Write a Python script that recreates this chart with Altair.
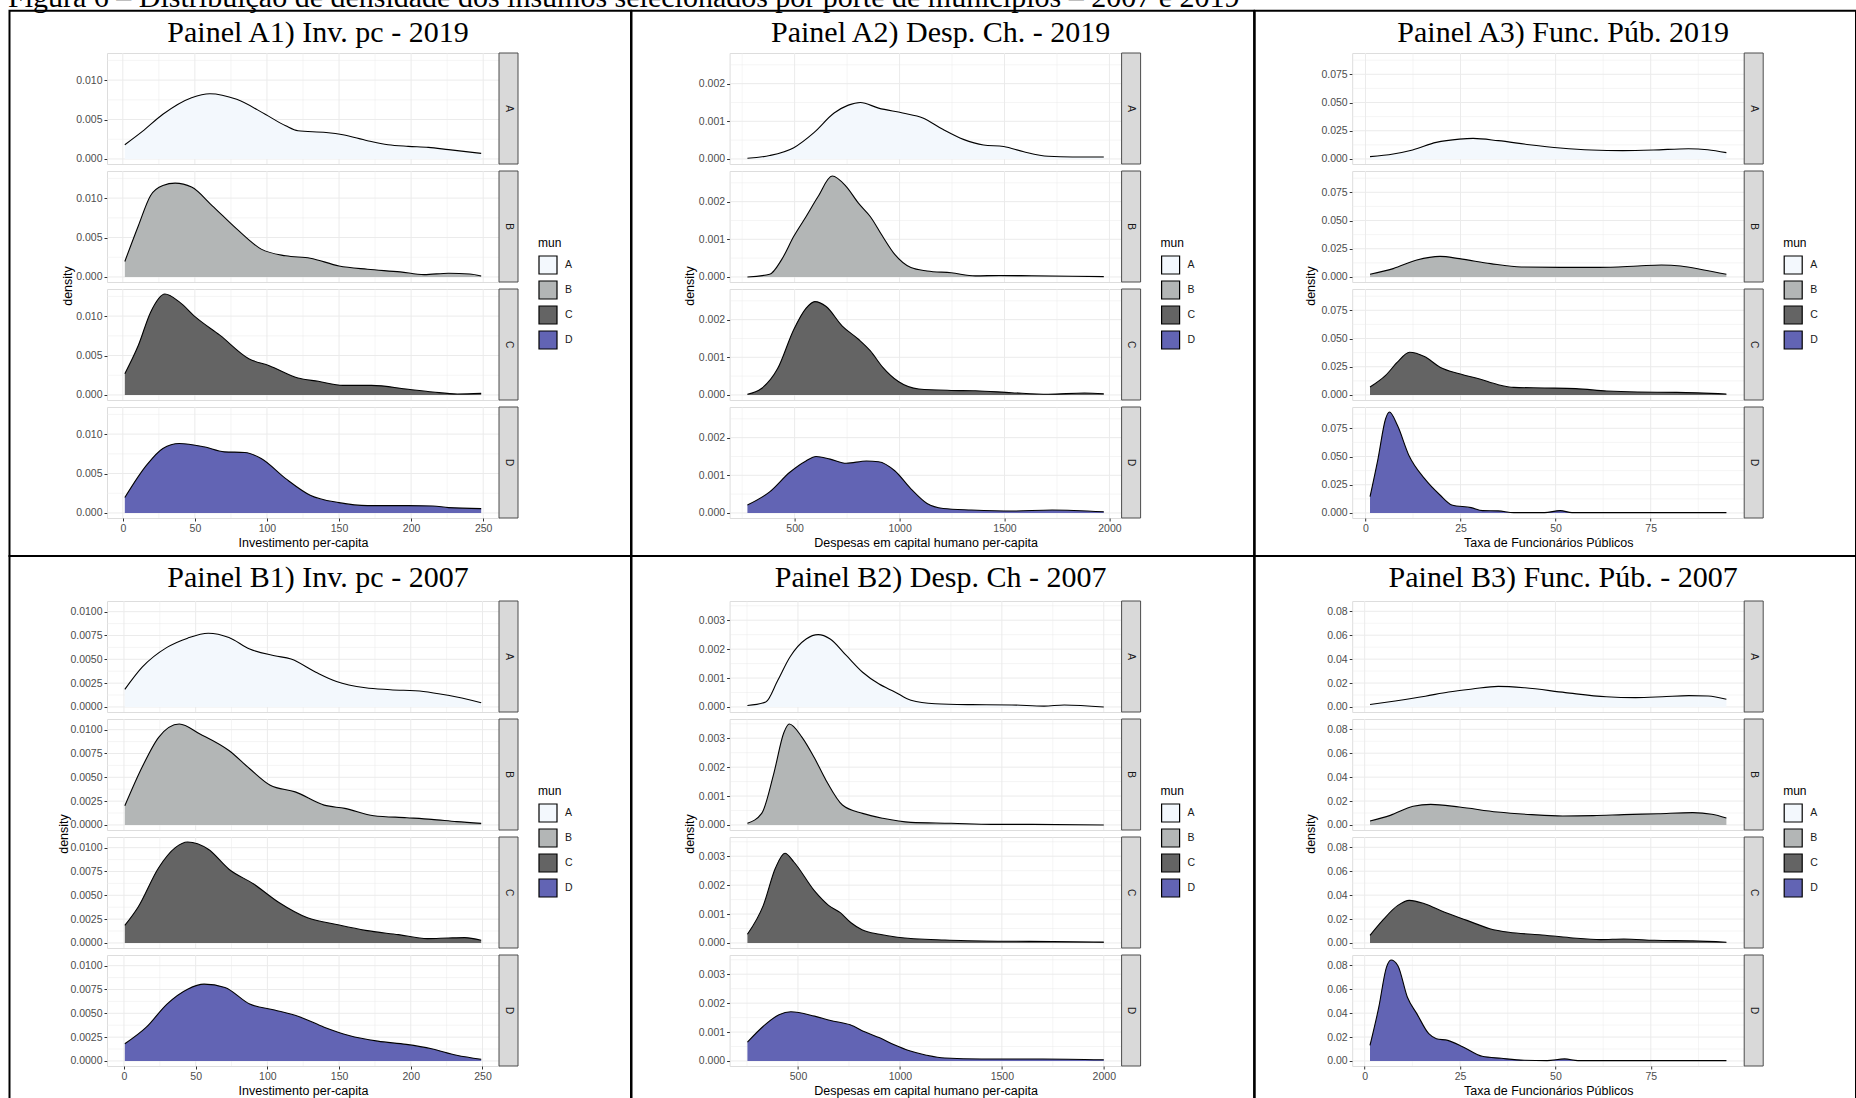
import altair as alt
import pandas as pd

# ---------------- data ----------------
# Panel A1) Inv. pc - 2019
a1_A_x = [1.4, 13.6, 27.8, 47.7, 60.4, 79, 98.8, 113, 121.5, 141, 152.7, 169.7, 184, 198, 212, 226, 248.6]
a1_A_y = [0.0018, 0.00349, 0.00567, 0.00777, 0.00828, 0.00756, 0.00567, 0.0042, 0.00357, 0.00336, 0.00307, 0.00231, 0.0018, 0.0016, 0.00147, 0.00118, 0.00071]
a1_B_x = [1.4, 10.8, 19.3, 27.8, 36.3, 47.7, 61.9, 79, 96, 113, 130, 150, 169.7, 192.4, 209, 226, 240.6, 248.6]
a1_B_y = [0.00196, 0.0065, 0.01034, 0.0116, 0.0119, 0.0114, 0.00906, 0.00609, 0.00353, 0.00268, 0.00238, 0.0014, 0.00098, 0.00064, 0.0003, 0.00047, 0.00038, 0.00013]
a1_C_x = [1.4, 10.8, 19.3, 29.2, 39.2, 50.5, 67.5, 87.4, 101.6, 121.5, 135.6, 152.7, 172.5, 198, 215, 232, 248.6]
a1_C_y = [0.0027, 0.0063, 0.0105, 0.0128, 0.0118, 0.00987, 0.00755, 0.0046, 0.0037, 0.00215, 0.00173, 0.00122, 0.00122, 0.00072, 0.00038, 0.00013, 0.0002]
a1_D_x = [1.4, 16.5, 27.8, 39.2, 56.2, 70.4, 84.6, 96, 113, 130, 150, 169.7, 198, 215, 226, 248.6]
a1_D_y = [0.00195, 0.00606, 0.00818, 0.00881, 0.00839, 0.00775, 0.00767, 0.00691, 0.00436, 0.00225, 0.00131, 0.00093, 0.00093, 0.00089, 0.00068, 0.00055]

# Panel A2) Desp. Ch. - 2019
a2_A_x = [275, 381, 496, 592, 688, 756, 813, 900, 1015, 1111, 1208, 1304, 1400, 1496, 1592, 1708, 1823, 1973]
a2_A_y = [0.00002, 0.00009, 0.0003, 0.0007, 0.00122, 0.00143, 0.0015, 0.00135, 0.00122, 0.00109, 0.00078, 0.00052, 0.00037, 0.00033, 0.00019, 0.00007, 0.00005, 0.00005]
a2_B_x = [275, 381, 438, 496, 554, 611, 679, 746, 804, 861, 919, 977, 1054, 1131, 1246, 1361, 1477, 1631, 1973]
a2_B_y = [0.0, 0.00007, 0.00046, 0.00108, 0.0016, 0.00213, 0.00268, 0.0024, 0.00196, 0.0016, 0.00108, 0.0006, 0.00025, 0.00016, 0.00011, 0.00003, 0.00004, 0.00003, 0.00001]
a2_C_x = [275, 342, 419, 496, 554, 596, 650, 727, 804, 861, 919, 996, 1092, 1246, 1361, 1534, 1708, 1881, 1973]
a2_C_y = [0.00002, 0.00017, 0.0007, 0.00174, 0.0023, 0.00248, 0.00235, 0.00183, 0.00148, 0.00117, 0.00074, 0.00035, 0.00016, 0.00012, 0.00011, 0.00006, 0.00002, 0.00005, 0.00003]
a2_D_x = [275, 381, 477, 554, 602, 669, 746, 842, 900, 977, 1054, 1131, 1208, 1342, 1534, 1727, 1973]
a2_D_y = [0.00021, 0.00056, 0.00108, 0.00138, 0.0015, 0.00143, 0.00132, 0.00138, 0.00136, 0.00112, 0.00064, 0.00025, 0.00012, 0.00008, 0.00005, 0.00008, 0.00003]

# Panel A3) Func. Púb. 2019
a3_A_x = [1.2, 7.3, 12.4, 18.6, 24.7, 28.3, 34.9, 43.1, 51.2, 59.4, 67.6, 75.7, 84.9, 90, 94.9]
a3_A_y = [0.0021, 0.0044, 0.0079, 0.0147, 0.0176, 0.0182, 0.0162, 0.0126, 0.0097, 0.0079, 0.0074, 0.0079, 0.0091, 0.0082, 0.0056]
a3_B_x = [1.2, 7.3, 13.5, 19.6, 24.7, 32.9, 41, 51.2, 61.4, 71.6, 77.8, 82.9, 89, 94.9]
a3_B_y = [0.0024, 0.0074, 0.015, 0.0182, 0.0162, 0.0118, 0.0088, 0.0085, 0.0085, 0.0097, 0.0106, 0.0097, 0.0062, 0.0024]
a3_C_x = [1.2, 5.3, 8.4, 11.6, 15.5, 19.6, 24.7, 29.8, 34.9, 39, 47.1, 55.3, 63.5, 71.6, 81.8, 94.9]
a3_C_y = [0.007, 0.0173, 0.029, 0.0378, 0.034, 0.0246, 0.0188, 0.0144, 0.0091, 0.0067, 0.0062, 0.0056, 0.0035, 0.0026, 0.0023, 0.0009]
a3_D_x = [1.2, 3.3, 5.3, 6.3, 8.4, 11.4, 15.5, 19.6, 22.7, 27.8, 30.8, 34.9, 39, 47.1, 51.2, 54.3, 94.9]
a3_D_y = [0.0144, 0.048, 0.0835, 0.0894, 0.0776, 0.0512, 0.0306, 0.0159, 0.0071, 0.0047, 0.0021, 0.0018, 0.0003, 0.0003, 0.0021, 0.0003, 0.0003]

# Panel B1) Inv. pc - 2007
b1_A_x = [0.6, 12.7, 30, 44.4, 58.8, 73.2, 87.7, 105, 116.5, 133.8, 148.2, 168.4, 185.7, 208.8, 226, 249.1]
b1_A_y = [0.00184, 0.00417, 0.00625, 0.00722, 0.00774, 0.00729, 0.00608, 0.00538, 0.00503, 0.00365, 0.00267, 0.00201, 0.00181, 0.00163, 0.00122, 0.00045]
b1_B_x = [0.6, 12.7, 24.2, 38.6, 53, 73.2, 87.7, 102, 119.4, 139.6, 154, 174.2, 197.2, 214.5, 232, 249.1]
b1_B_y = [0.00201, 0.00608, 0.0092, 0.01059, 0.00955, 0.00781, 0.0059, 0.00417, 0.00347, 0.00208, 0.00174, 0.00097, 0.00076, 0.00059, 0.00035, 0.00017]
b1_C_x = [0.6, 9.8, 24.2, 35.8, 44.4, 58.8, 73.2, 90.5, 107.8, 128, 148.2, 168.4, 191.5, 211.7, 226, 237.6, 249.1]
b1_C_y = [0.00184, 0.00375, 0.0079, 0.01, 0.01059, 0.00983, 0.00774, 0.00618, 0.00427, 0.00264, 0.00194, 0.00132, 0.00087, 0.00045, 0.00052, 0.00056, 0.00028]
b1_D_x = [0.6, 15.6, 30, 44.4, 55.9, 70.4, 87.7, 105, 122.3, 139.6, 156.9, 177, 196.9, 214.5, 232, 249.1]
b1_D_y = [0.0018, 0.00354, 0.00597, 0.00753, 0.00806, 0.00771, 0.00597, 0.00535, 0.00465, 0.00354, 0.00267, 0.00208, 0.00174, 0.00128, 0.00059, 0.00017]

# Panel B2) Desp. Ch - 2007
b2_A_x = [252, 342, 401, 460, 540, 599, 658, 737, 817, 896, 975, 1054, 1173, 1351, 1549, 1707, 1806, 2000]
b2_A_y = [0.00005, 0.00017, 0.00092, 0.00172, 0.00235, 0.0025, 0.00235, 0.00178, 0.0012, 0.0008, 0.00052, 0.00023, 0.00011, 0.00008, 0.00007, 0.00003, 0.00007, 0.0]
b2_B_x = [252, 322, 381, 431, 457, 520, 579, 638, 718, 817, 916, 1054, 1252, 1450, 1648, 2000]
b2_B_y = [0.00006, 0.0004, 0.00177, 0.0032, 0.00349, 0.00303, 0.00234, 0.00154, 0.00069, 0.0004, 0.00023, 0.00009, 0.00006, 0.00002, 0.00002, 0.0]
b2_C_x = [252, 330, 390, 436, 480, 581, 650, 709, 760, 814, 900, 988, 1221, 1500, 1750, 2000]
b2_C_y = [0.0003, 0.0013, 0.0026, 0.0031, 0.0028, 0.0018, 0.0013, 0.00104, 0.0007, 0.00046, 0.0003, 0.0002, 0.0001, 0.00006, 0.00005, 0.00003]
b2_D_x = [252, 330, 407, 465, 581, 660, 756, 830, 901, 975, 1047, 1130, 1221, 1400, 1700, 2000]
b2_D_y = [0.00065, 0.0012, 0.0016, 0.0017, 0.00155, 0.0014, 0.00125, 0.001, 0.0008, 0.00055, 0.00035, 0.0002, 0.0001, 0.00007, 0.00007, 0.00004]

# Panel B3) Func. Púb. - 2007
b3_A_x = [1.4, 8, 15.9, 22, 28.2, 35, 42, 52.6, 63.3, 71, 78, 85, 90, 94.8]
b3_A_y = [0.002, 0.005, 0.009, 0.0125, 0.015, 0.0172, 0.016, 0.012, 0.0085, 0.0078, 0.0085, 0.0095, 0.0092, 0.0065]
b3_B_x = [1.4, 6.7, 12.7, 17.3, 24.8, 34.8, 43.8, 51.9, 59.9, 67.9, 76.9, 86, 91, 94.8]
b3_B_y = [0.0033, 0.008, 0.0156, 0.0172, 0.015, 0.0108, 0.0086, 0.0075, 0.0078, 0.0086, 0.0094, 0.0103, 0.0089, 0.0058]
b3_C_x = [1.4, 4.7, 8.7, 11.7, 15.7, 20.8, 26.8, 32.8, 37.8, 45.8, 53.9, 61.9, 67.9, 75.9, 86, 94.8]
b3_C_y = [0.0064, 0.0189, 0.0314, 0.0356, 0.0328, 0.0258, 0.0189, 0.0119, 0.0089, 0.0069, 0.0044, 0.0028, 0.0033, 0.0022, 0.0017, 0.0006]
b3_D_x = [1.4, 3.7, 5.7, 6.9, 8.7, 11.2, 13.7, 16.8, 18.8, 21.8, 25.8, 30.8, 35.8, 41.8, 47.8, 52.4, 55.9, 94.8]
b3_D_y = [0.0131, 0.045, 0.0783, 0.0844, 0.0797, 0.0533, 0.0394, 0.0228, 0.0186, 0.0172, 0.0117, 0.0039, 0.0022, 0.0006, 0.0003, 0.0017, 0.0003, 0.0003]

# groups, colours, titles, tick values
groups = ["A", "B", "C", "D"]
fill_colors = ["#F3F8FD", "#B3B6B6", "#646464", "#6264B4"]
caption = "Figura 6 \u2013 Distribui\u00e7\u00e3o de densidade dos insumos selecionados por porte de munic\u00edpios \u2013 2007 e 2019"
panel_titles = [["Painel A1) Inv. pc - 2019", "Painel A2) Desp. Ch. - 2019", "Painel A3) Func. P\u00fab. 2019"],
                ["Painel B1) Inv. pc - 2007", "Painel B2) Desp. Ch - 2007", "Painel B3) Func. P\u00fab. - 2007"]]
x_titles = ["Investimento per-capita", "Despesas em capital humano per-capita", "Taxa de Funcion\u00e1rios P\u00fablicos"]

x_major_inv = [0, 50, 100, 150, 200, 250]
x_minor_inv = [25, 75, 125, 175, 225]
x_major_desp = [500, 1000, 1500, 2000]
x_minor_desp = [250, 750, 1250, 1750]
x_major_func = [0, 25, 50, 75]
x_minor_func = [12.5, 37.5, 62.5, 87.5]

y_major = {
    "a1": [0, 0.005, 0.010], "a2": [0, 0.001, 0.002], "a3": [0, 0.025, 0.05, 0.075],
    "b1": [0, 0.0025, 0.005, 0.0075, 0.01], "b2": [0, 0.001, 0.002, 0.003], "b3": [0, 0.02, 0.04, 0.06, 0.08],
}
y_minor = {
    "a1": [0.0025, 0.0075, 0.0125], "a2": [0.0005, 0.0015, 0.0025], "a3": [0.0125, 0.0375, 0.0625, 0.0875],
    "b1": [0.00125, 0.00375, 0.00625, 0.00875, 0.01125], "b2": [0.0005, 0.0015, 0.0025, 0.0035],
    "b3": [0.01, 0.03, 0.05, 0.07],
}
y_formats = {"a1": ".3f", "a2": ".3f", "a3": ".3f", "b1": ".4f", "b2": ".3f", "b3": ".2f"}

data_tbl = {
    "a1": ({"A": a1_A_x, "B": a1_B_x, "C": a1_C_x, "D": a1_D_x}, {"A": a1_A_y, "B": a1_B_y, "C": a1_C_y, "D": a1_D_y}),
    "a2": ({"A": a2_A_x, "B": a2_B_x, "C": a2_C_x, "D": a2_D_x}, {"A": a2_A_y, "B": a2_B_y, "C": a2_C_y, "D": a2_D_y}),
    "a3": ({"A": a3_A_x, "B": a3_B_x, "C": a3_C_x, "D": a3_D_x}, {"A": a3_A_y, "B": a3_B_y, "C": a3_C_y, "D": a3_D_y}),
    "b1": ({"A": b1_A_x, "B": b1_B_x, "C": b1_C_x, "D": b1_D_x}, {"A": b1_A_y, "B": b1_B_y, "C": b1_C_y, "D": b1_D_y}),
    "b2": ({"A": b2_A_x, "B": b2_B_x, "C": b2_C_x, "D": b2_D_x}, {"A": b2_A_y, "B": b2_B_y, "C": b2_C_y, "D": b2_D_y}),
    "b3": ({"A": b3_A_x, "B": b3_B_x, "C": b3_C_x, "D": b3_D_x}, {"A": b3_A_y, "B": b3_B_y, "C": b3_C_y, "D": b3_D_y}),
}

# ---------------- layout constants ----------------
H = 111
VSP = 7
STRIP_W = 19
W = 392
HSP = 230.6
GAP_ROW_H = 69
SANS = "Liberation Sans"
SERIF = "Liberation Serif"
BOX_X = [(-97.5, 524), (-98.1, 524.5), (-97.5, 503.8)]
BOX_Y = [(-42.3, 503), (-45, 499)]
TITLE_Y = [-11.3, -14.3]
DENS_X = [[-40, -40, -42], [-44, -40, -42]]
TICK_FS = 10.5
TITLE_FS = 12.5

fill_scale = alt.Scale(domain=groups, range=fill_colors)


def sub_chart(key, row, col, g, k):
    xs_d, ys_d = data_tbl[key]
    allx = [v for gg in groups for v in xs_d[gg]]
    ally = [v for gg in groups for v in ys_d[gg]]
    xmin, xmax = min(allx), max(allx)
    rng = xmax - xmin
    xdom = [xmin - 0.05 * rng, xmax + 0.05 * rng]
    ymax = max(ally)
    ydom = [-0.05 * ymax, 1.05 * ymax]
    xsc = alt.Scale(domain=xdom, nice=False, zero=False)
    ysc = alt.Scale(domain=ydom, nice=False, zero=False)

    xmaj = [x_major_inv, x_major_desp, x_major_func][col]
    xmin_l = [x_minor_inv, x_minor_desp, x_minor_func][col]
    xmin_l = [v for v in xmin_l if xdom[0] <= v <= xdom[1]]
    ymaj = y_major[key]
    ymin_l = [v for v in y_minor[key] if ydom[0] <= v <= ydom[1]]

    # ---- axes (same object used in every layer so the layer merge keeps them) ----
    ykw = dict(values=ymaj, format=y_formats[key], grid=False, domain=False, tickSize=3, tickColor="#333333",
               labelFontSize=TICK_FS, labelColor="#4D4D4D", labelPadding=2, labelFlush=False, labelFont=SANS)
    if k == 1:
        ykw.update(titleX=DENS_X[row][col], titleY=H + VSP / 2, titleAngle=270, titleAlign="center",
                   titleBaseline="middle", titleFontSize=TITLE_FS, titleFontWeight="normal", titleColor="black",
                   titleFont=SANS)
    y_axis = alt.Axis(**ykw)
    y_title = "density" if k == 1 else None

    if k == 3:
        x_axis = alt.Axis(values=xmaj, format="d", grid=False, domain=False, tickSize=3,
                          tickColor="#333333", labelFontSize=TICK_FS, labelColor="#4D4D4D", labelPadding=2,
                          labelFlush=False, labelFont=SANS, titleFontSize=TITLE_FS, titleFontWeight="normal",
                          titleColor="black", titlePadding=3, titleFont=SANS)
        x_title = x_titles[col]
    else:
        x_axis = None
        x_title = None

    def X(field):
        return alt.X(field, scale=xsc, axis=x_axis, title=x_title)

    def Y(field):
        return alt.Y(field, scale=ysc, axis=y_axis, title=y_title)

    layers = []
    for vals, sw in ((xmin_l, 0.5), (xmaj, 1.0)):
        layers.append(alt.Chart(pd.DataFrame({"v": vals})).mark_rule(color="#EBEBEB", strokeWidth=sw, clip=True)
                      .encode(x=X("v:Q")))
    for vals, sw in ((ymin_l, 0.5), (ymaj, 1.0)):
        layers.append(alt.Chart(pd.DataFrame({"v": vals})).mark_rule(color="#EBEBEB", strokeWidth=sw, clip=True)
                      .encode(y=Y("v:Q")))

    df = pd.DataFrame({"x": xs_d[g], "y": ys_d[g], "mun": [g] * len(xs_d[g])})

    if k == 1:
        leg = alt.Legend(title="mun", orient="none", legendX=431, legendY=67, direction="vertical",
                         titleFontSize=12, titleFontWeight="normal", titleColor="black", titlePadding=5,
                         titleFont=SANS, labelFont=SANS, labelFontSize=TICK_FS, labelColor="#1A1A1A",
                         labelOffset=7, symbolType="square", symbolSize=324, symbolStrokeColor="black",
                         symbolStrokeWidth=1.2, symbolOpacity=1, rowPadding=1, padding=0)
        fenc = alt.Fill("mun:N", scale=fill_scale, legend=leg)
    else:
        fenc = alt.Fill("mun:N", scale=fill_scale, legend=None)

    layers.append(alt.Chart(df).mark_area(interpolate="monotone", opacity=1)
                  .encode(x=X("x:Q"), y=Y("y:Q"), y2=alt.datum(0), fill=fenc))
    layers.append(alt.Chart(df).mark_line(interpolate="monotone", color="black", strokeWidth=1.1)
                  .encode(x=X("x:Q"), y=Y("y:Q")))

    lab = pd.DataFrame({"lab": [g]})
    layers.append(alt.Chart(lab).mark_rect(fill="#D9D9D9", stroke="#4D4D4D", strokeWidth=1)
                  .encode(x=alt.value(W), x2=alt.value(W + STRIP_W), y=alt.value(0), y2=alt.value(H)))
    layers.append(alt.Chart(lab).mark_text(angle=90, fontSize=10, color="#1A1A1A", font=SANS,
                                           align="center", baseline="middle")
                  .encode(x=alt.value(W + STRIP_W / 2), y=alt.value(H / 2), text="lab:N"))

    if k == 0:
        tdf = pd.DataFrame({"t": [panel_titles[row][col]]})
        layers.append(alt.Chart(tdf).mark_text(font=SERIF, fontSize=30, color="black", align="center",
                                               baseline="alphabetic")
                      .encode(x=alt.value(211), y=alt.value(TITLE_Y[row]), text="t:N"))
        bx0, bx1 = BOX_X[col]
        by0, by1 = BOX_Y[row]
        layers.append(alt.Chart(tdf).mark_rect(fillOpacity=0, stroke="black", strokeWidth=2)
                      .encode(x=alt.value(bx0), x2=alt.value(bx1), y=alt.value(by0), y2=alt.value(by1)))
        if row == 0 and col == 0:
            cdf = pd.DataFrame({"c": [caption]})
            layers.append(alt.Chart(cdf).mark_text(font=SERIF, fontSize=30, color="black", align="left",
                                                   baseline="alphabetic")
                          .encode(x=alt.value(-99), y=alt.value(-46.5), text="c:N"))

    return alt.layer(*layers).properties(width=W, height=H)


def spacer():
    return (alt.Chart(pd.DataFrame({"v": [0]})).mark_point(opacity=0)
            .encode(x=alt.value(0), y=alt.value(0))
            .properties(width=W, height=GAP_ROW_H, view=alt.ViewBackground(stroke="transparent")))


keys = [["a1", "a2", "a3"], ["b1", "b2", "b3"]]
cells = []
for r in range(2):
    if r == 1:
        cells.extend([spacer() for _ in range(3)])
    for k, g in enumerate(groups):
        for c in range(3):
            cells.append(sub_chart(keys[r][c], r, c, g, k))

chart = (
    alt.concat(*cells, columns=3, spacing=alt.RowColnumber(row=VSP, column=HSP), bounds="flush")
    .resolve_scale(fill="independent", x="independent", y="independent")
    .properties(autosize=alt.AutoSizeParams(type="none"),
                padding={"left": 107, "top": 53, "right": 1749, "bottom": 1045},
                background="white")
    .configure_view(stroke="#333333", strokeWidth=1)
    .configure(font=SANS)
)

chart.save("out.html", embed_options={"renderer": "svg", "actions": False})
